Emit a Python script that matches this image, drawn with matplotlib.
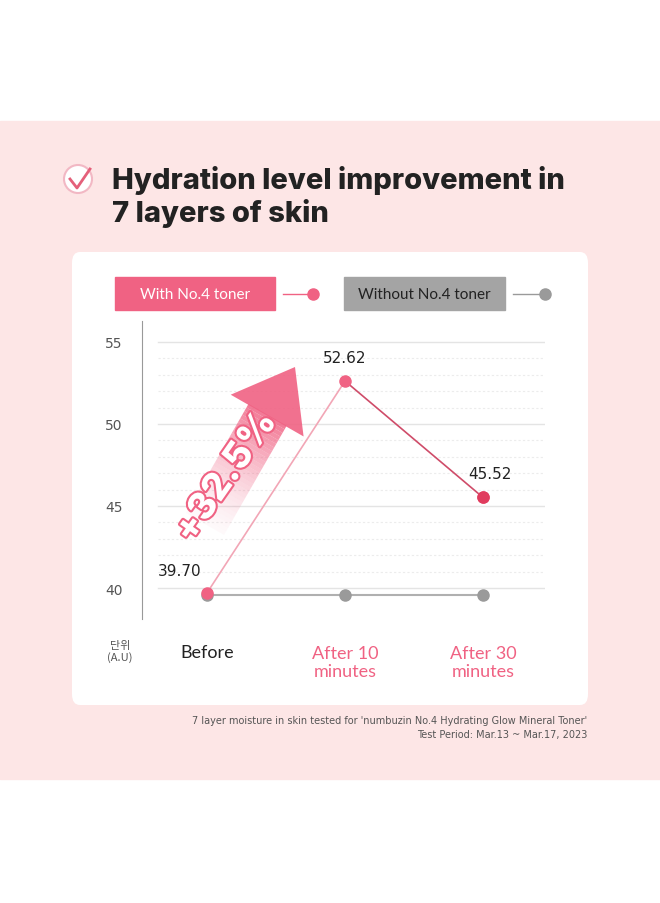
import matplotlib.pyplot as plt
import matplotlib.patheffects as pe
from matplotlib.patches import Rectangle, FancyBboxPatch, Ellipse, Polygon
import numpy as np

W, H = 660, 904
categories = ['Before', 'After 10\nminutes', 'After 30\nminutes']
with_toner = [39.70, 52.62, 45.52]
without_toner = [39.6, 39.6, 39.6]
yticks = [40, 45, 50, 55]

PINK = '#f06283'
GREY = '#9a9a9a'


def P(x, y):
    return x / W, 1 - y / H


fig = plt.figure(figsize=(6.6, 9.04), dpi=100)
fig.patch.set_facecolor('white')
tf = fig.transFigure

# background panels
fig.patches.append(Rectangle(P(0, 780), 1, (780 - 122) / H, transform=tf, color='#fde6e6', zorder=0))
fig.patches.append(FancyBboxPatch(P(72, 706), (588 - 72) / W, (706 - 253) / H, transform=tf,
                                  boxstyle='round,pad=0,rounding_size=0.012', fc='white', ec='none', zorder=1))

# title + check icon
fig.patches.append(Ellipse(P(78, 180), 28 / W, 28 / H, transform=tf, fc='white', ec='#f2b8c4', lw=1.5, zorder=2))
fig.lines.append(plt.Line2D([P(70, 180)[0], P(77, 189)[0], P(90, 170)[0]],
                            [P(70, 180)[1], P(77, 189)[1], P(90, 170)[1]],
                            transform=tf, color='#e4607a', lw=2, zorder=3))
fig.text(*P(112, 197), 'Hydration level improvement in\n7 layers of skin', fontsize=21,
         fontweight='heavy', color='#222222', family='Inter', linespacing=1.2, va='center')

# legend boxes
fig.patches.append(Rectangle(P(115, 311), (275 - 115) / W, 33 / H, transform=tf, color=PINK, zorder=2))
fig.text(*P(195, 295), 'With No.4 toner', color='white', fontsize=11, ha='center', va='center', family='Lato')
fig.lines.append(plt.Line2D([P(283, 0)[0], P(313, 0)[0]], [P(0, 295)[1]] * 2, transform=tf, color=PINK, lw=1))
fig.lines.append(plt.Line2D([P(313, 0)[0]], [P(0, 295)[1]], transform=tf, marker='o', ms=8, color=PINK))
fig.patches.append(Rectangle(P(344, 311), (505 - 344) / W, 33 / H, transform=tf, color='#a4a4a4', zorder=2))
fig.text(*P(424, 295), 'Without No.4 toner', color='#222222', fontsize=11, ha='center', va='center', family='Lato')
fig.lines.append(plt.Line2D([P(513, 0)[0], P(545, 0)[0]], [P(0, 295)[1]] * 2, transform=tf, color=GREY, lw=1))
fig.lines.append(plt.Line2D([P(545, 0)[0]], [P(0, 295)[1]], transform=tf, marker='o', ms=8, color=GREY))

# main axes
ax = fig.add_axes([142 / W, 1 - 620 / H, (545 - 142) / W, (620 - 322) / H])
ax.set_zorder(3)
ax.set_facecolor('none')
x = np.arange(len(categories))
ax.set_xlim(-0.471, 2.449)
ax.set_ylim(38.11, 56.28)
for v in range(40, 56):
    if v in yticks:
        ax.axhline(v, xmin=0.04, color='#e4e4e4', lw=1, zorder=0)
    else:
        ax.axhline(v, xmin=0.04, color='#ececec', lw=0.8, ls=(0, (2, 2)), zorder=0)
for s in ['top', 'right', 'bottom']:
    ax.spines[s].set_visible(False)
ax.spines['left'].set_color('#999999')
ax.set_yticks(yticks)
ax.tick_params(axis='y', length=0, labelsize=10, labelcolor='#555555', pad=14)
ax.set_xticks([])

ax.plot(x, without_toner, color='#b0b0b0', lw=1.5, marker='o', ms=8, mfc=GREY, mec=GREY, zorder=3)
ax.plot(x[:2], with_toner[:2], color='#f2a6b6', lw=1.2, zorder=3)
ax.plot(x[1:], with_toner[1:], color='#cf4c69', lw=1.2, zorder=3)
ax.plot(x, with_toner, ls='none', marker='o', ms=8, color=PINK, zorder=4)
ax.plot(x[2], with_toner[2], ls='none', marker='o', ms=8, color='#e03c5e', zorder=5)
offs = [(-0.2, 0.9), (0, 1.0), (0.05, 1.0)]
for i, v in enumerate(with_toner):
    ax.text(x[i] + offs[i][0], v + offs[i][1], f'{v:.2f}', ha='center', va='bottom', fontsize=11, color='#222222')

# growth arrow (figure pixels), drawn above the axes
base = np.array([205, 525])
tip = np.array([295, 368])
L = np.linalg.norm(tip - base)
d = (tip - base) / L
n = np.array([-d[1], d[0]])
for k in range(30):
    t0, t1 = k / 30, (k + 1) / 30
    a = base + d * (L - 55) * t0
    b = base + d * (L - 55) * t1
    pts = [a + n * 22, b + n * 22, b - n * 22, a - n * 22]
    fig.patches.append(Polygon([P(*p) for p in pts], transform=tf, fc=PINK, ec='none',
                               alpha=0.03 + 0.8 * t1 ** 1.5, zorder=5))
hb = base + d * (L - 56)
head = [hb + n * 42, tip, hb - n * 42]
fig.patches.append(Polygon([P(*p) for p in head], transform=tf, fc=PINK, ec='none', alpha=0.9, zorder=5))
fig.text(*P(226, 478), '+32.5%', rotation=55, fontsize=27, fontweight='heavy', color='white', family='Inter',
         ha='center', va='center', zorder=6, path_effects=[pe.withStroke(linewidth=3, foreground=PINK)])

# x labels
fig.text(*P(120, 652), '단위\n(A.U)', fontsize=8, color='#555555', ha='center', va='center',
         family=['Noto Sans CJK KR', 'DejaVu Sans'])
colors = ['#222222', PINK, PINK]
for i, c in enumerate(categories):
    xp = 207 + 138 * i
    fig.text(*P(xp, 653 if i == 0 else 663), c, fontsize=13, color=colors[i], ha='center', va='center',
             family='Lato', linespacing=1.1)

fig.text(*P(587, 728), "7 layer moisture in skin tested for 'numbuzin No.4 Hydrating Glow Mineral Toner'\n"
         "Test Period: Mar.13 ~ Mar.17, 2023", fontsize=7, color='#555555', ha='right', va='center',
         linespacing=1.4)

fig.savefig('out.png', dpi=100, facecolor=fig.get_facecolor())
